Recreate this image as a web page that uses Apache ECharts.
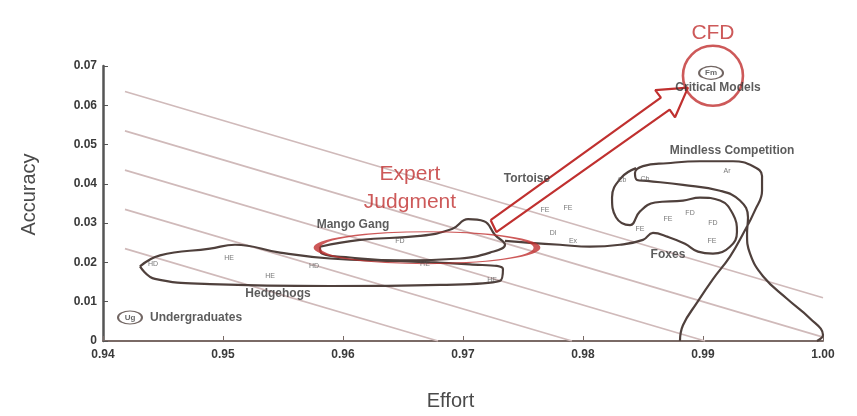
<!DOCTYPE html>
<html><head><meta charset="utf-8">
<script src="https://cdn.jsdelivr.net/npm/echarts/dist/echarts.min.js"></script>
<style>html,body{margin:0;padding:0;background:#fff}#c{width:857px;height:416px}</style>
</head><body><div id="c"></div>
<script>
// ---- tick labels ----
const xTicks = ['0.94','0.95','0.96','0.97','0.98','0.99','1.00'];
const yTicks = ['0','0.01','0.02','0.03','0.04','0.05','0.06','0.07'];

// ---- iso (effort/accuracy trade-off) lines: [start, end] ----
const isoLines = [
  [[0.94183,0.0635],[1.0,0.011]],
  [[0.94183,0.0535],[1.0,0.001]],
  [[0.94183,0.0435],[0.99017,0]],
  [[0.94183,0.0335],[0.97908,0]],
  [[0.94183,0.0235],[0.96792,0]]
];

// ---- group outlines ----
const hedgehogs = [[0.94308,0.0190],[0.94475,0.0218],[0.94892,0.0235],[0.95100,0.0245],[0.95475,0.0225],[0.95892,0.0210],[0.96475,0.0203],[0.97058,0.0195],[0.97333,0.0183],[0.97308,0.0153],[0.96808,0.0143],[0.95892,0.0140],[0.94892,0.0145],[0.94433,0.0158],[0.94308,0.0190]];
const mangoGang = [[0.95808,0.0240],[0.96142,0.02575],[0.96642,0.02675],[0.96908,0.0285],[0.97042,0.0310],[0.97175,0.0305],[0.97267,0.0270],[0.97350,0.0245],[0.97225,0.0225],[0.96975,0.0210],[0.96475,0.0205],[0.96058,0.02125],[0.95825,0.02225],[0.95808,0.0240]];
const foxes = [[0.98442,0.0440],[0.98317,0.0415],[0.98242,0.0365],[0.98275,0.0315],[0.98392,0.0295],[0.98475,0.0330],[0.98600,0.03525],[0.98833,0.03575],[0.98975,0.0365],[0.99142,0.03575],[0.99250,0.03225],[0.99283,0.02775],[0.99225,0.0240],[0.99083,0.02225],[0.98958,0.02275],[0.98850,0.02475],[0.98708,0.0265],[0.98583,0.0275],[0.98500,0.02575],[0.98308,0.0245],[0.98058,0.0240],[0.97808,0.0245],[0.97558,0.0250],[0.97350,0.0255]];
const mindless = [[0.98808,0.0],[0.98833,0.0040],[0.98950,0.00975],[0.99083,0.01575],[0.99225,0.0215],[0.99333,0.02725],[0.99433,0.03325],[0.99492,0.03825],[0.99492,0.0420],[0.99417,0.0445],[0.99250,0.04575],[0.98975,0.04575],[0.98700,0.04525],[0.98500,0.0445],[0.98433,0.04275],[0.98450,0.0410],[0.98533,0.04075],[0.98833,0.03975],[0.99142,0.03825],[0.99308,0.03575],[0.99375,0.0315],[0.99367,0.02725],[0.99392,0.02225],[0.99500,0.0165],[0.99700,0.01075],[0.99892,0.00575],[1.0,0.0015],[0.9995,0.0]];

// ---- annotation arrow (outline) ----
const arrow = [[0.97230,0.03078],[0.98649,0.06193],[0.98602,0.06385],[0.98875,0.06450],[0.98767,0.05695],[0.98722,0.05888],[0.97278,0.02773],[0.97230,0.03078]];

// ---- group labels ----
const groupLabels = [
  {name:'Critical Models', value:[0.99125,0.0645]},
  {name:'Mindless Competition', value:[0.99242,0.0485]},
  {name:'Mango Gang', value:[0.96083,0.0295]},
  {name:'Hedgehogs', value:[0.95458,0.0120]},
  {name:'Tortoise', value:[0.97533,0.04125]},
  {name:'Foxes', value:[0.98708,0.0220]}
];
const legendText = [{name:'Undergraduates', value:[0.94392,0.0060]}];
const circled = [
  {name:'Ug', value:[0.94225,0.0060]},
  {name:'Fm', value:[0.99067,0.06825]}
];
const tinyLabels = [
  {name:'HD', value:[0.94417,0.0195]},{name:'HE', value:[0.9505,0.0210]},{name:'HE', value:[0.95392,0.0165]},
  {name:'HD', value:[0.95758,0.0190]},{name:'FD', value:[0.96475,0.0255]},{name:'HE', value:[0.96683,0.0195]},
  {name:'HE', value:[0.97242,0.0155]},{name:'FE', value:[0.97683,0.03325]},{name:'FE', value:[0.97875,0.03375]},
  {name:'Dl', value:[0.9775,0.0275]},{name:'Ex', value:[0.97917,0.0255]},{name:'Cb', value:[0.98325,0.0410]},
  {name:'Cb', value:[0.98517,0.04125]},{name:'Ar', value:[0.9920,0.04325]},{name:'FE', value:[0.98475,0.0285]},
  {name:'FE', value:[0.98708,0.0310]},{name:'FD', value:[0.98892,0.0325]},{name:'FD', value:[0.99083,0.0300]},
  {name:'FE', value:[0.99075,0.0255]}
];
// ---- red highlights ----
const expertEllipse = [0.96700,0.02375];
const cfdCircle = [0.99083,0.0675];
const redTexts = [
  {name:'CFD', value:[0.99083,0.07825]},
  {name:'Expert\nJudgment', value:[0.96558,0.0390]}
];

const RED = '#c0302f', INK = '#4f403c', ISO = '#d0baba';
const chart = echarts.init(document.getElementById('c'), null, {renderer:'canvas'});
const series = [];
isoLines.forEach(l => series.push({type:'line', data:l, symbol:'none', silent:true,
  lineStyle:{color:ISO, width:1.7}, z:1}));
[hedgehogs, mangoGang, foxes, mindless].forEach(d => series.push({type:'line', data:d, symbol:'none',
  smooth:0.45, lineStyle:{color:INK, width:2.2}, z:2, clip:false}));
series.push({type:'line', data:arrow, symbol:'none', lineStyle:{color:RED, width:2.2}, z:5, clip:false});
series.push({type:'scatter', data:[expertEllipse], symbol:'circle', symbolSize:[220,32],
  itemStyle:{color:'rgba(0,0,0,0)', borderColor:RED, borderWidth:2.6}, z:4, clip:false});
series.push({type:'scatter', data:[cfdCircle], symbol:'circle', symbolSize:60,
  itemStyle:{color:'rgba(0,0,0,0)', borderColor:RED, borderWidth:2.6}, z:4, clip:false});
series.push({type:'scatter', data:circled, symbol:'circle', symbolSize:[24,13],
  itemStyle:{color:'rgba(255,255,255,0)', borderColor:INK, borderWidth:1.5}, z:6, clip:false,
  label:{show:true, position:'inside', formatter:'{b}', fontSize:8, fontWeight:'bold', color:'#444'}});
series.push({type:'scatter', data:groupLabels, symbolSize:0, z:7, clip:false,
  label:{show:true, position:'inside', formatter:'{b}', fontSize:12, fontWeight:'bold', color:'#333', fontFamily:'Liberation Sans'}});
series.push({type:'scatter', data:legendText, symbolSize:0, z:7, clip:false,
  label:{show:true, position:'right', distance:0, formatter:'{b}', fontSize:12, fontWeight:'bold', color:'#333', fontFamily:'Liberation Sans'}});
series.push({type:'scatter', data:tinyLabels, symbolSize:0, z:7, clip:false,
  label:{show:true, position:'inside', formatter:'{b}', fontSize:7, color:'#555', fontFamily:'Liberation Sans'}});
series.push({type:'scatter', data:redTexts, symbolSize:0, z:8, clip:false,
  label:{show:true, position:'inside', formatter:'{b}', fontSize:21, lineHeight:28, color:RED, fontFamily:'Liberation Sans'}});

chart.setOption({
  animation:false,
  backgroundColor:'#ffffff',
  grid:{left:103, right:34, top:66, bottom:70, containLabel:false},
  xAxis:{type:'value', min:0.94, max:1.00, interval:0.01,
    name:'Effort', nameLocation:'middle', nameGap:50,
    nameTextStyle:{fontSize:20, color:'#4a4a4a', fontFamily:'Liberation Sans', padding:[0,25,0,0]},
    axisLine:{lineStyle:{color:'#7a6a66', width:2}},
    axisTick:{show:true, inside:true, length:5, lineStyle:{color:'#7a6a66'}},
    axisLabel:{fontSize:12, fontWeight:'bold', color:'#3a3a3a', margin:8, fontFamily:'Liberation Sans',
      formatter:(v)=>xTicks[Math.round((v-0.94)/0.01)]},
    splitLine:{show:false}},
  yAxis:{type:'value', min:0, max:0.07, interval:0.01,
    name:'Accuracy', nameLocation:'middle', nameGap:64, nameRotate:90,
    nameTextStyle:{fontSize:20, color:'#4a4a4a', fontFamily:'Liberation Sans', padding:[0,0,0,18]},
    axisLine:{show:true, lineStyle:{color:'#555', width:2.5}},
    axisTick:{show:true, inside:true, length:5, lineStyle:{color:'#555'}},
    axisLabel:{fontSize:12, fontWeight:'bold', color:'#3a3a3a', margin:6, fontFamily:'Liberation Sans',
      formatter:(v)=>yTicks[Math.round(v/0.01)]},
    splitLine:{show:false}},
  series:series
});
</script></body></html>
